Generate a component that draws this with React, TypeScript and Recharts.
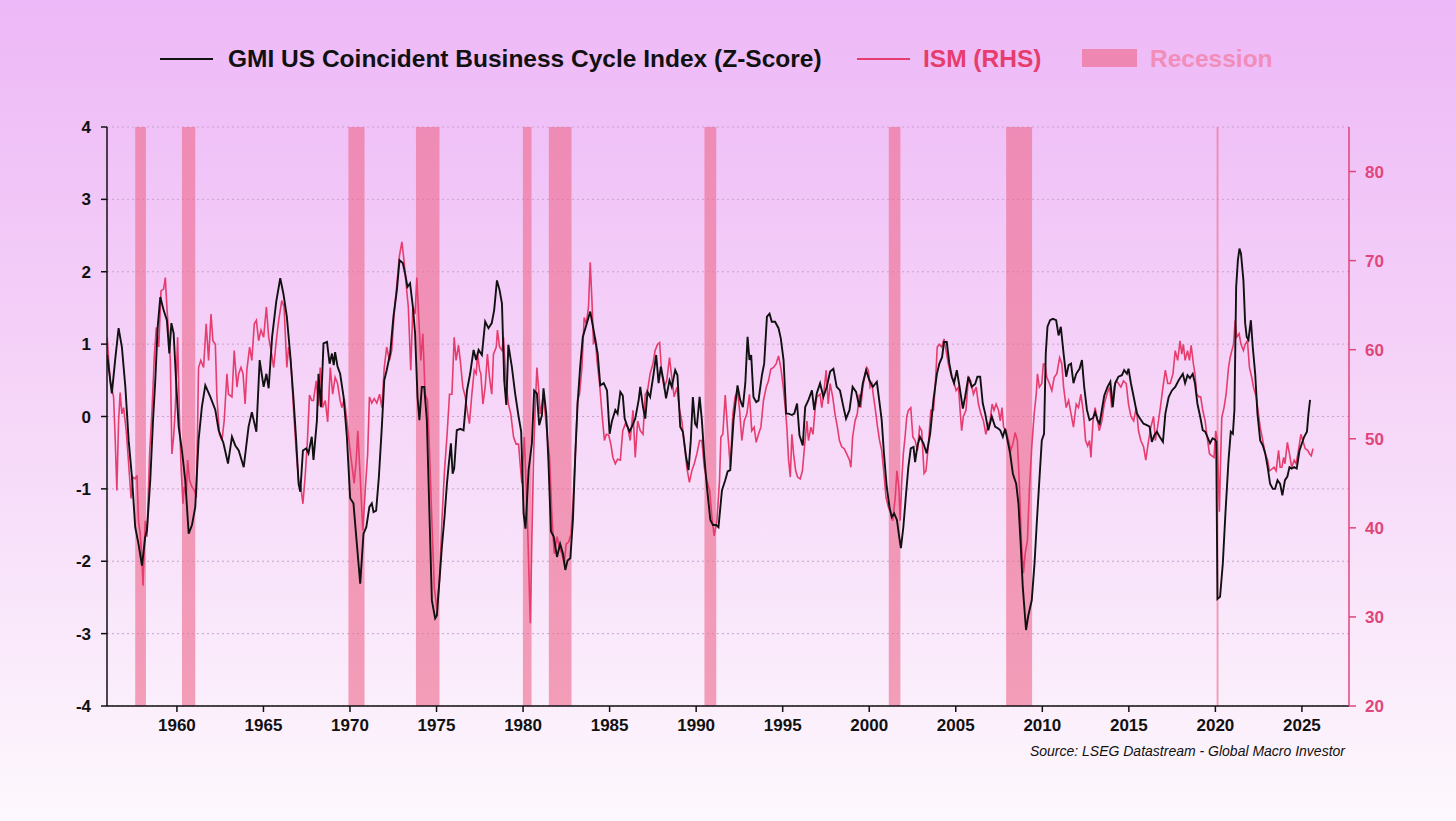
import React from 'react';
import { ComposedChart, Line, XAxis, YAxis, CartesianGrid, ReferenceArea } from 'recharts';

// x ticks, y ticks
const yearTicks = [1960, 1965, 1970, 1975, 1980, 1985, 1990, 1995, 2000, 2005, 2010, 2015, 2020, 2025];
const leftTicks = [-4, -3, -2, -1, 0, 1, 2, 3, 4];
const rightTicks = [20, 30, 40, 50, 60, 70, 80];

// recession periods [start, end] (decimal years)
const recessions: [number, number][] = [
  [1957.59, 1958.21], [1960.29, 1961.06], [1969.91, 1970.84], [1973.81, 1975.17],
  [1979.99, 1980.49], [1981.49, 1982.8], [1990.48, 1991.16], [2001.13, 2001.8],
  [2007.91, 2009.41], [2020.07, 2020.18],
];

// GMI US Coincident Business Cycle Index (z-score), [year, value]
const gmiPoints: [number, number][] = [
  [1955.97, 0.85], [1956.24, 0.32], [1956.43, 0.78], [1956.63, 1.22], [1956.82, 0.96], [1957.02, 0.41],
  [1957.21, -0.33], [1957.4, -0.83], [1957.59, -1.53], [1957.78, -1.76], [1957.98, -2.06], [1958.17, -1.66],
  [1958.27, -1.57], [1958.46, -0.88], [1958.62, -0.05], [1958.75, 0.5], [1958.89, 1.24], [1959.04, 1.65],
  [1959.23, 1.47], [1959.42, 1.33], [1959.56, 0.87], [1959.68, 1.29], [1959.81, 1.15], [1959.97, 0.41],
  [1960.1, -0.14], [1960.29, -0.47], [1960.48, -0.88], [1960.68, -1.62], [1960.87, -1.5], [1961.06, -1.25],
  [1961.25, -0.33], [1961.44, 0.13], [1961.64, 0.43], [1961.93, 0.27], [1962.22, 0.09], [1962.41, -0.19],
  [1962.69, -0.37], [1962.95, -0.65], [1963.18, -0.28], [1963.37, -0.4], [1963.57, -0.47], [1963.86, -0.7],
  [1964.14, -0.14], [1964.33, 0.06], [1964.59, -0.21], [1964.78, 0.78], [1965.01, 0.41], [1965.17, 0.59],
  [1965.3, 0.39], [1965.5, 1.1], [1965.74, 1.59], [1965.97, 1.91], [1966.15, 1.7], [1966.35, 1.38],
  [1966.54, 0.87], [1966.74, 0.23], [1966.89, -0.33], [1967.03, -0.93], [1967.13, -1.04], [1967.28, -0.47],
  [1967.47, -0.44], [1967.6, -0.51], [1967.79, -0.28], [1967.89, -0.6], [1968.09, -0.05], [1968.18, 0.59],
  [1968.32, 0.13], [1968.47, 1.01], [1968.67, 1.03], [1968.82, 0.73], [1968.96, 0.87], [1969.06, 0.71],
  [1969.14, 0.89], [1969.28, 0.69], [1969.43, 0.59], [1969.63, 0.27], [1969.82, -0.28], [1970.01, -1.13],
  [1970.2, -1.2], [1970.36, -1.66], [1970.59, -2.31], [1970.78, -1.62], [1970.94, -1.53], [1971.12, -1.25],
  [1971.26, -1.2], [1971.36, -1.32], [1971.51, -1.3], [1971.67, -0.83], [1971.84, -0.14], [1971.98, 0.5],
  [1972.12, 0.64], [1972.32, 0.87], [1972.51, 1.38], [1972.71, 1.75], [1972.86, 2.16], [1973.05, 2.12],
  [1973.18, 1.98], [1973.32, 1.79], [1973.47, 1.84], [1973.63, 1.52], [1973.76, 1.15], [1973.9, 0.27],
  [1974.01, -0.05], [1974.15, 0.41], [1974.29, 0.41], [1974.44, -0.05], [1974.6, -1.43], [1974.73, -2.54],
  [1974.92, -2.79], [1975.02, -2.75], [1975.31, -1.8], [1975.46, -1.39], [1975.6, -0.93], [1975.69, -0.7],
  [1975.83, -0.37], [1975.93, -0.79], [1976.02, -0.72], [1976.17, -0.19], [1976.37, -0.17], [1976.56, -0.19],
  [1976.76, 0.36], [1976.94, 0.59], [1977.14, 0.92], [1977.29, 0.78], [1977.43, 0.92], [1977.62, 0.85],
  [1977.81, 1.31], [1978.0, 1.22], [1978.19, 1.29], [1978.33, 1.47], [1978.49, 1.88], [1978.64, 1.75],
  [1978.78, 1.56], [1978.91, 0.5], [1979.03, 0.16], [1979.15, 0.99], [1979.35, 0.69], [1979.54, 0.32],
  [1979.74, 0.0], [1979.89, -0.21], [1980.03, -1.34], [1980.14, -1.55], [1980.32, -0.74], [1980.51, -0.37],
  [1980.64, 0.36], [1980.8, 0.32], [1980.93, -0.12], [1981.09, 0.02], [1981.18, 0.39], [1981.34, 0.04],
  [1981.47, -0.65], [1981.61, -1.59], [1981.77, -1.66], [1981.96, -1.94], [1982.14, -1.76], [1982.3, -1.89],
  [1982.44, -2.12], [1982.57, -1.99], [1982.73, -1.96], [1982.88, -1.43], [1983.02, -0.51], [1983.15, 0.18],
  [1983.3, 0.69], [1983.45, 1.1], [1983.65, 1.26], [1983.88, 1.45], [1984.04, 1.24], [1984.17, 1.06],
  [1984.31, 0.87], [1984.46, 0.43], [1984.66, 0.46], [1984.85, 0.36], [1985.0, -0.24], [1985.13, -0.07],
  [1985.33, 0.09], [1985.46, 0.04], [1985.62, 0.34], [1985.76, 0.29], [1985.87, -0.03], [1986.0, -0.12],
  [1986.15, -0.21], [1986.29, -0.14], [1986.48, -0.03], [1986.68, 0.23], [1986.77, 0.41], [1986.93, 0.13],
  [1987.06, -0.03], [1987.19, 0.34], [1987.34, 0.27], [1987.54, 0.59], [1987.69, 0.85], [1987.83, 0.46],
  [1987.96, 0.69], [1988.11, 0.5], [1988.26, 0.25], [1988.46, 0.5], [1988.59, 0.41], [1988.79, 0.64],
  [1988.92, 0.57], [1989.08, -0.14], [1989.23, -0.21], [1989.42, -0.56], [1989.56, -0.74], [1989.69, -0.33],
  [1989.81, 0.27], [1989.94, -0.1], [1990.04, -0.14], [1990.2, 0.27], [1990.33, -0.05], [1990.47, -0.56],
  [1990.62, -0.97], [1990.82, -1.43], [1990.97, -1.5], [1991.16, -1.5], [1991.29, -1.53], [1991.49, -1.02],
  [1991.68, -0.88], [1991.82, -0.76], [1991.97, -0.74], [1992.16, -0.05], [1992.39, 0.43], [1992.54, 0.23],
  [1992.7, 0.13], [1992.84, 0.46], [1992.97, 1.1], [1993.08, 0.78], [1993.18, 0.85], [1993.31, 0.27],
  [1993.47, 0.2], [1993.6, 0.22], [1993.8, 0.57], [1993.93, 0.73], [1994.09, 1.38], [1994.24, 1.42],
  [1994.37, 1.31], [1994.56, 1.31], [1994.76, 1.22], [1994.89, 1.08], [1995.05, 0.78], [1995.2, 0.04],
  [1995.34, 0.04], [1995.53, 0.02], [1995.67, 0.04], [1995.83, 0.18], [1995.97, -0.26], [1996.16, -0.4],
  [1996.3, 0.13], [1996.49, 0.23], [1996.69, 0.36], [1996.82, 0.09], [1996.97, 0.32], [1997.16, 0.46],
  [1997.35, 0.27], [1997.55, 0.41], [1997.74, 0.62], [1997.93, 0.66], [1998.12, 0.41], [1998.31, 0.36],
  [1998.51, 0.13], [1998.66, -0.03], [1998.86, 0.09], [1999.04, 0.41], [1999.24, 0.34], [1999.43, 0.13],
  [1999.63, 0.46], [1999.82, 0.64], [2000.01, 0.5], [2000.21, 0.41], [2000.44, 0.48], [2000.6, 0.18],
  [2000.72, -0.05], [2000.85, -0.51], [2001.01, -0.97], [2001.17, -1.25], [2001.3, -1.39], [2001.44, -1.34],
  [2001.6, -1.43], [2001.73, -1.66], [2001.83, -1.82], [2001.97, -1.53], [2002.13, -1.06], [2002.26, -0.7],
  [2002.4, -0.44], [2002.56, -0.42], [2002.65, -0.63], [2002.79, -0.4], [2002.93, -0.28], [2003.13, -0.37],
  [2003.32, -0.51], [2003.52, -0.24], [2003.71, 0.23], [2003.91, 0.59], [2004.05, 0.73], [2004.21, 0.82],
  [2004.32, 1.03], [2004.48, 1.03], [2004.63, 0.73], [2004.77, 0.55], [2004.9, 0.46], [2005.06, 0.64],
  [2005.22, 0.41], [2005.41, 0.11], [2005.54, 0.27], [2005.73, 0.55], [2005.92, 0.41], [2006.12, 0.45],
  [2006.25, 0.55], [2006.41, 0.55], [2006.56, 0.18], [2006.7, 0.04], [2006.88, -0.19], [2007.08, 0.0],
  [2007.27, -0.14], [2007.47, -0.17], [2007.57, -0.19], [2007.72, -0.28], [2007.85, -0.17], [2007.99, -0.33],
  [2008.14, -0.51], [2008.3, -0.79], [2008.49, -0.93], [2008.62, -1.2], [2008.75, -1.76], [2008.87, -2.35],
  [2009.06, -2.95], [2009.19, -2.75], [2009.39, -2.54], [2009.55, -2.03], [2009.69, -1.43], [2009.83, -0.88],
  [2009.97, -0.33], [2010.1, -0.24], [2010.2, 0.87], [2010.3, 1.24], [2010.45, 1.33], [2010.61, 1.35],
  [2010.8, 1.33], [2010.94, 1.12], [2011.07, 1.24], [2011.23, 0.87], [2011.38, 0.55], [2011.52, 0.71],
  [2011.66, 0.73], [2011.8, 0.46], [2011.96, 0.59], [2012.15, 0.66], [2012.29, 0.78], [2012.42, 0.41],
  [2012.58, 0.09], [2012.73, -0.05], [2012.93, -0.02], [2013.05, 0.06], [2013.19, -0.05], [2013.31, -0.1],
  [2013.44, 0.09], [2013.58, 0.29], [2013.77, 0.41], [2013.93, 0.48], [2014.07, 0.13], [2014.21, 0.46],
  [2014.4, 0.55], [2014.6, 0.57], [2014.73, 0.64], [2014.89, 0.59], [2014.98, 0.66], [2015.12, 0.46],
  [2015.28, 0.27], [2015.47, 0.04], [2015.65, -0.03], [2015.85, -0.1], [2016.04, -0.12], [2016.2, -0.14],
  [2016.33, -0.35], [2016.47, -0.26], [2016.62, -0.21], [2016.78, -0.28], [2016.97, -0.35], [2017.11, 0.04],
  [2017.3, 0.27], [2017.49, 0.36], [2017.68, 0.41], [2017.88, 0.5], [2018.12, 0.59], [2018.25, 0.46],
  [2018.39, 0.57], [2018.53, 0.53], [2018.69, 0.59], [2018.82, 0.46], [2018.96, 0.18], [2019.12, 0.0],
  [2019.27, -0.19], [2019.41, -0.21], [2019.54, -0.28], [2019.69, -0.37], [2019.84, -0.3], [2019.98, -0.32],
  [2020.05, -0.35], [2020.12, -2.52], [2020.27, -2.49], [2020.43, -2.03], [2020.58, -1.34], [2020.76, -0.6],
  [2020.89, -0.21], [2021.01, -0.24], [2021.1, 0.09], [2021.2, 1.79], [2021.3, 2.16], [2021.39, 2.32],
  [2021.48, 2.25], [2021.62, 1.88], [2021.72, 1.29], [2021.81, 1.1], [2021.91, 1.06], [2022.05, 1.33],
  [2022.16, 0.96], [2022.3, 0.59], [2022.43, 0.04], [2022.59, -0.33], [2022.74, -0.4], [2022.88, -0.51],
  [2023.02, -0.7], [2023.16, -0.93], [2023.32, -1.0], [2023.45, -1.0], [2023.59, -0.88], [2023.74, -0.93],
  [2023.87, -1.09], [2024.02, -0.88], [2024.16, -0.83], [2024.28, -0.7], [2024.41, -0.72], [2024.55, -0.7],
  [2024.7, -0.72], [2024.86, -0.47], [2025.0, -0.37], [2025.13, -0.28], [2025.29, -0.21], [2025.38, 0.04],
  [2025.47, 0.23],
];

// ISM manufacturing PMI (right axis), [year, value]
const ismPoints: [number, number][] = [
  [1955.97, 61.4], [1956.14, 56.5], [1956.34, 54.7], [1956.43, 50.2], [1956.53, 44.2], [1956.63, 52.0],
  [1956.72, 55.2], [1956.82, 52.8], [1956.92, 53.5], [1957.07, 50.9], [1957.21, 47.2], [1957.35, 43.3],
  [1957.46, 45.7], [1957.59, 45.5], [1957.69, 45.9], [1957.78, 40.8], [1957.88, 39.3], [1957.98, 36.3],
  [1958.04, 33.5], [1958.17, 40.8], [1958.27, 39.0], [1958.42, 48.3], [1958.56, 53.2], [1958.7, 59.5],
  [1958.81, 62.5], [1958.95, 60.3], [1959.08, 66.6], [1959.23, 66.8], [1959.33, 68.1], [1959.42, 64.8],
  [1959.52, 61.8], [1959.62, 58.8], [1959.71, 48.3], [1959.81, 50.2], [1959.91, 53.5], [1960.04, 61.4],
  [1960.16, 51.3], [1960.25, 46.4], [1960.35, 42.7], [1960.42, 44.6], [1960.54, 43.8], [1960.62, 47.6],
  [1960.73, 45.3], [1960.87, 44.6], [1961.01, 44.2], [1961.12, 43.4], [1961.25, 58.0], [1961.38, 58.8],
  [1961.54, 58.0], [1961.69, 62.9], [1961.83, 58.8], [1961.97, 64.0], [1962.08, 61.0], [1962.22, 60.6],
  [1962.31, 54.7], [1962.46, 50.5], [1962.6, 49.8], [1962.73, 52.0], [1962.89, 57.3], [1962.98, 55.0],
  [1963.18, 54.7], [1963.31, 59.9], [1963.47, 55.8], [1963.57, 57.3], [1963.7, 58.0], [1963.82, 57.3],
  [1963.94, 53.9], [1964.04, 57.7], [1964.2, 60.3], [1964.33, 58.8], [1964.47, 62.9], [1964.59, 63.3],
  [1964.72, 61.0], [1964.86, 62.2], [1965.01, 61.4], [1965.17, 64.8], [1965.3, 61.4], [1965.44, 59.9],
  [1965.59, 58.0], [1965.74, 61.0], [1965.88, 63.3], [1966.06, 65.5], [1966.19, 64.8], [1966.35, 58.0],
  [1966.45, 60.3], [1966.58, 58.8], [1966.74, 53.2], [1966.89, 48.7], [1967.03, 45.3], [1967.16, 44.6],
  [1967.28, 42.7], [1967.42, 46.1], [1967.54, 49.8], [1967.66, 54.9], [1967.79, 54.3], [1967.89, 54.3],
  [1968.05, 56.5], [1968.18, 53.7], [1968.28, 58.0], [1968.42, 53.5], [1968.57, 54.3], [1968.71, 51.9],
  [1968.86, 58.0], [1969.0, 55.0], [1969.14, 56.9], [1969.28, 56.2], [1969.43, 54.3], [1969.53, 53.5],
  [1969.67, 54.5], [1969.82, 52.0], [1969.98, 49.1], [1970.1, 47.2], [1970.24, 45.0], [1970.36, 47.6],
  [1970.45, 50.9], [1970.59, 45.7], [1970.74, 39.7], [1970.88, 44.2], [1971.02, 48.3], [1971.12, 54.7],
  [1971.26, 54.0], [1971.4, 54.5], [1971.55, 54.0], [1971.71, 55.0], [1971.84, 53.5], [1971.98, 58.0],
  [1972.12, 60.3], [1972.28, 58.8], [1972.41, 59.9], [1972.55, 64.0], [1972.71, 67.4], [1972.86, 70.6],
  [1973.0, 72.1], [1973.12, 70.0], [1973.24, 67.4], [1973.37, 64.8], [1973.51, 57.7], [1973.63, 64.8],
  [1973.76, 64.0], [1973.86, 68.1], [1973.98, 63.3], [1974.09, 58.8], [1974.21, 61.8], [1974.34, 55.0],
  [1974.48, 54.3], [1974.6, 48.3], [1974.73, 40.8], [1974.87, 33.3], [1975.02, 30.9], [1975.17, 34.1],
  [1975.31, 40.8], [1975.46, 46.4], [1975.6, 50.2], [1975.75, 55.0], [1975.89, 55.0], [1976.02, 61.4],
  [1976.13, 58.8], [1976.27, 60.5], [1976.37, 58.8], [1976.52, 55.8], [1976.66, 54.7], [1976.8, 52.8],
  [1976.9, 51.7], [1977.04, 55.0], [1977.18, 57.7], [1977.29, 57.3], [1977.37, 59.5], [1977.49, 57.7],
  [1977.56, 57.3], [1977.68, 53.9], [1977.81, 55.8], [1977.94, 59.5], [1978.06, 56.9], [1978.19, 55.0],
  [1978.29, 59.5], [1978.45, 60.3], [1978.52, 62.2], [1978.64, 60.3], [1978.78, 59.9], [1978.87, 61.4],
  [1979.01, 56.5], [1979.15, 53.9], [1979.29, 52.8], [1979.45, 50.2], [1979.6, 49.4], [1979.74, 49.4],
  [1979.83, 47.2], [1979.93, 45.0], [1980.07, 50.2], [1980.18, 44.6], [1980.28, 39.0], [1980.38, 31.8],
  [1980.42, 29.3], [1980.51, 39.0], [1980.61, 48.3], [1980.7, 53.5], [1980.8, 58.0], [1980.89, 55.8],
  [1980.99, 52.8], [1981.09, 53.9], [1981.18, 55.0], [1981.28, 52.8], [1981.42, 49.8], [1981.53, 47.9],
  [1981.67, 41.2], [1981.8, 37.1], [1981.96, 39.0], [1982.1, 37.8], [1982.24, 37.1], [1982.38, 36.0],
  [1982.49, 38.2], [1982.63, 38.4], [1982.77, 39.3], [1982.88, 42.7], [1983.02, 48.3], [1983.15, 54.3],
  [1983.26, 55.0], [1983.4, 58.0], [1983.53, 63.6], [1983.65, 62.9], [1983.78, 64.8], [1983.88, 69.8],
  [1983.98, 65.5], [1984.07, 60.6], [1984.17, 61.4], [1984.27, 58.8], [1984.42, 56.2], [1984.56, 52.8],
  [1984.7, 49.8], [1984.81, 50.5], [1984.95, 50.4], [1985.07, 49.4], [1985.19, 47.9], [1985.33, 47.2],
  [1985.46, 47.7], [1985.62, 47.6], [1985.76, 50.9], [1985.91, 51.7], [1986.04, 51.3], [1986.19, 49.8],
  [1986.35, 53.2], [1986.48, 47.9], [1986.62, 52.0], [1986.77, 50.9], [1986.93, 50.5], [1987.06, 55.0],
  [1987.19, 55.4], [1987.34, 57.3], [1987.5, 58.4], [1987.63, 59.9], [1987.77, 60.6], [1987.89, 60.8],
  [1988.01, 57.3], [1988.15, 55.8], [1988.3, 56.5], [1988.46, 59.1], [1988.59, 56.9], [1988.73, 54.7],
  [1988.89, 55.8], [1989.04, 53.2], [1989.17, 52.0], [1989.3, 49.8], [1989.46, 46.8], [1989.61, 45.1],
  [1989.75, 46.4], [1989.89, 47.2], [1990.04, 48.3], [1990.2, 49.8], [1990.33, 49.8], [1990.47, 46.8],
  [1990.62, 45.3], [1990.78, 44.2], [1990.91, 41.2], [1991.04, 39.1], [1991.2, 40.8], [1991.35, 45.3],
  [1991.43, 50.2], [1991.54, 50.5], [1991.68, 54.9], [1991.82, 50.9], [1991.97, 46.8], [1992.12, 52.8],
  [1992.25, 54.7], [1992.39, 55.4], [1992.51, 53.2], [1992.64, 49.8], [1992.78, 52.0], [1992.93, 52.8],
  [1993.08, 55.0], [1993.21, 50.9], [1993.35, 51.3], [1993.47, 49.6], [1993.6, 50.5], [1993.74, 51.3],
  [1993.89, 54.3], [1994.05, 55.8], [1994.18, 56.5], [1994.31, 57.8], [1994.47, 58.0], [1994.62, 58.4],
  [1994.76, 59.3], [1994.89, 58.0], [1995.01, 56.2], [1995.15, 53.5], [1995.24, 51.3], [1995.34, 47.6],
  [1995.44, 45.7], [1995.53, 50.5], [1995.63, 48.3], [1995.75, 46.4], [1995.86, 45.7], [1996.01, 45.5],
  [1996.14, 46.4], [1996.26, 49.1], [1996.4, 52.0], [1996.49, 49.8], [1996.63, 51.3], [1996.75, 50.5],
  [1996.88, 53.5], [1996.97, 54.7], [1997.16, 55.0], [1997.26, 53.5], [1997.39, 55.4], [1997.51, 57.7],
  [1997.63, 53.9], [1997.74, 56.2], [1997.89, 54.7], [1998.02, 52.8], [1998.16, 51.3], [1998.28, 49.8],
  [1998.41, 49.1], [1998.55, 48.9], [1998.7, 48.3], [1998.86, 47.6], [1998.94, 46.8], [1999.04, 50.2],
  [1999.18, 52.0], [1999.31, 52.8], [1999.43, 55.0], [1999.51, 53.5], [1999.63, 55.8], [1999.76, 57.3],
  [1999.86, 58.0], [1999.95, 57.7], [2000.05, 55.8], [2000.15, 56.2], [2000.25, 54.7], [2000.34, 53.5],
  [2000.48, 51.3], [2000.6, 49.8], [2000.72, 48.7], [2000.85, 46.1], [2000.97, 43.4], [2001.11, 42.3],
  [2001.25, 41.6], [2001.36, 40.8], [2001.5, 43.4], [2001.6, 46.4], [2001.71, 44.6], [2001.79, 40.8],
  [2001.88, 45.3], [2001.97, 48.3], [2002.07, 50.2], [2002.17, 52.5], [2002.26, 53.2], [2002.4, 53.5],
  [2002.52, 50.2], [2002.65, 49.8], [2002.79, 48.7], [2002.91, 51.3], [2003.03, 50.9], [2003.17, 46.1],
  [2003.28, 46.4], [2003.42, 49.4], [2003.56, 53.2], [2003.71, 53.2], [2003.81, 55.8], [2003.93, 60.3],
  [2004.05, 60.6], [2004.19, 60.3], [2004.32, 61.2], [2004.44, 59.9], [2004.57, 58.4], [2004.71, 57.3],
  [2004.87, 56.5], [2005.02, 55.4], [2005.16, 55.8], [2005.25, 53.2], [2005.34, 50.9], [2005.44, 52.5],
  [2005.59, 53.2], [2005.73, 56.9], [2005.86, 56.5], [2006.02, 55.0], [2006.18, 55.8], [2006.31, 53.9],
  [2006.45, 52.8], [2006.6, 52.0], [2006.74, 50.5], [2006.83, 51.3], [2006.98, 52.0], [2007.1, 53.9],
  [2007.21, 53.2], [2007.33, 53.9], [2007.47, 53.2], [2007.57, 52.0], [2007.67, 53.5], [2007.76, 51.3],
  [2007.91, 50.9], [2008.05, 49.8], [2008.18, 48.7], [2008.3, 49.4], [2008.43, 50.7], [2008.56, 49.8],
  [2008.68, 44.6], [2008.79, 38.6], [2008.91, 34.9], [2009.01, 37.1], [2009.14, 38.6], [2009.26, 44.6],
  [2009.39, 49.1], [2009.53, 52.8], [2009.65, 55.0], [2009.72, 57.3], [2009.83, 55.8], [2009.97, 56.2],
  [2010.06, 58.4], [2010.16, 58.4], [2010.26, 56.9], [2010.41, 56.2], [2010.55, 55.4], [2010.69, 56.9],
  [2010.84, 57.3], [2011.0, 59.1], [2011.13, 58.4], [2011.23, 55.8], [2011.38, 53.5], [2011.52, 54.3],
  [2011.66, 52.8], [2011.8, 51.3], [2011.96, 53.9], [2012.09, 53.5], [2012.23, 55.0], [2012.38, 52.8],
  [2012.5, 49.8], [2012.62, 49.2], [2012.73, 49.8], [2012.81, 47.9], [2012.93, 52.0], [2013.05, 53.5],
  [2013.15, 52.5], [2013.29, 50.9], [2013.44, 52.0], [2013.58, 53.9], [2013.73, 55.0], [2013.89, 55.8],
  [2014.01, 53.5], [2014.15, 55.8], [2014.27, 56.5], [2014.4, 56.2], [2014.54, 55.8], [2014.69, 56.5],
  [2014.85, 56.2], [2014.98, 53.9], [2015.12, 52.5], [2015.28, 52.0], [2015.43, 53.5], [2015.56, 50.9],
  [2015.69, 49.8], [2015.85, 49.1], [2015.98, 47.6], [2016.14, 49.8], [2016.27, 51.3], [2016.43, 52.5],
  [2016.53, 49.8], [2016.66, 51.3], [2016.82, 53.5], [2016.97, 55.8], [2017.11, 57.7], [2017.25, 56.2],
  [2017.39, 56.2], [2017.55, 57.3], [2017.68, 59.9], [2017.82, 58.8], [2017.96, 61.0], [2018.06, 59.5],
  [2018.15, 60.6], [2018.25, 58.8], [2018.39, 59.9], [2018.5, 58.8], [2018.6, 60.5], [2018.73, 58.4],
  [2018.82, 57.3], [2018.92, 55.0], [2019.06, 54.7], [2019.15, 54.7], [2019.27, 53.2], [2019.41, 52.0],
  [2019.5, 50.5], [2019.66, 48.3], [2019.78, 48.1], [2019.92, 47.9], [2020.02, 50.9], [2020.11, 49.8],
  [2020.23, 41.8], [2020.31, 48.3], [2020.37, 52.4], [2020.5, 53.5], [2020.62, 55.0], [2020.76, 58.0],
  [2020.85, 59.1], [2020.95, 59.9], [2021.05, 60.6], [2021.14, 63.3], [2021.24, 61.4], [2021.37, 61.8],
  [2021.48, 60.6], [2021.62, 59.9], [2021.72, 60.6], [2021.85, 61.0], [2021.97, 58.0], [2022.1, 56.9],
  [2022.2, 55.8], [2022.36, 54.7], [2022.49, 52.8], [2022.59, 51.3], [2022.74, 49.8], [2022.88, 48.3],
  [2023.02, 47.6], [2023.12, 46.4], [2023.26, 46.6], [2023.39, 46.8], [2023.51, 46.4], [2023.65, 48.7],
  [2023.74, 46.8], [2023.84, 46.8], [2023.94, 47.9], [2024.02, 47.2], [2024.16, 49.6], [2024.28, 48.3],
  [2024.41, 46.8], [2024.55, 47.6], [2024.66, 47.2], [2024.8, 48.7], [2024.94, 50.5], [2025.05, 49.8],
  [2025.19, 48.9], [2025.33, 48.7], [2025.45, 48.3], [2025.54, 48.1], [2025.64, 48.9],
];

const gmiData = gmiPoints.map(([year, value]) => ({ year, gmi: value }));
const ismData = ismPoints.map(([year, value]) => ({ year, ism: value }));

const FONT = '"Liberation Sans", Arial, Helvetica, sans-serif';
const BLACK = '#111111';
const ISM_RED = '#E63C6E';
const AXIS_PINK = '#E0457B';
const RECESSION = '#EE6A8E';

const legendText: React.CSSProperties = {
  position: 'absolute',
  top: 44,
  height: 30,
  lineHeight: '30px',
  fontFamily: FONT,
  fontWeight: 700,
  fontSize: 24.5,
  whiteSpace: 'nowrap',
};

const tickFont = { fontSize: 17, fontWeight: 700, fontFamily: FONT };

export default function App() {
  return (
    <div
      style={{
        position: 'absolute',
        left: 0,
        top: 0,
        width: 1456,
        height: 821,
        overflow: 'hidden',
        background: 'linear-gradient(to bottom, #EDB8F7 0%, #F5D3F8 45%, #FDF8FD 100%)',
      }}
    >
      {/* legend */}
      <div style={{ position: 'absolute', left: 160, top: 58, width: 53, height: 2, background: BLACK }} />
      <div style={{ ...legendText, left: 228, color: BLACK }}>GMI US Coincident Business Cycle Index (Z-Score)</div>
      <div style={{ position: 'absolute', left: 857, top: 58, width: 53, height: 2, background: ISM_RED }} />
      <div style={{ ...legendText, left: 923, color: ISM_RED }}>ISM (RHS)</div>
      <div style={{ position: 'absolute', left: 1082, top: 49, width: 55, height: 18, background: RECESSION, opacity: 0.65 }} />
      <div style={{ ...legendText, left: 1150, color: '#F28DB9' }}>Recession</div>

      <div style={{ position: 'absolute', left: 0, top: 0 }}>
        <ComposedChart width={1456} height={821} margin={{ top: 127, right: 0, bottom: 85, left: 0 }}>
          {recessions.map(([start, end]) => (
            <ReferenceArea
              key={start}
              x1={start}
              x2={end}
              yAxisId="left"
              y1={-4}
              y2={4}
              fill={RECESSION}
              fillOpacity={0.62}
              stroke="none"
            />
          ))}
          <CartesianGrid
            yAxisId="left"
            vertical={false}
            stroke="#C7A3CC"
            strokeDasharray="2 3"
          />
          <XAxis
            dataKey="year"
            type="number"
            domain={[1955.96, 2027.72]}
            ticks={yearTicks}
            allowDataOverflow
            height={30}
            tickSize={6}
            tickMargin={7}
            axisLine={{ stroke: BLACK, strokeWidth: 1.5 }}
            tickLine={{ stroke: BLACK, strokeWidth: 1.5 }}
            tick={{ fill: BLACK, ...tickFont }}
          />
          <YAxis
            yAxisId="left"
            domain={[-4, 4]}
            ticks={leftTicks}
            interval={0}
            width={107}
            tickSize={6}
            tickMargin={10}
            axisLine={{ stroke: BLACK, strokeWidth: 1.5 }}
            tickLine={{ stroke: BLACK, strokeWidth: 1.5 }}
            tick={{ fill: BLACK, ...tickFont }}
          />
          <YAxis
            yAxisId="right"
            orientation="right"
            domain={[20, 85]}
            ticks={rightTicks}
            interval={0}
            width={107}
            tickSize={7}
            tickMargin={9}
            axisLine={{ stroke: AXIS_PINK, strokeWidth: 1.5 }}
            tickLine={{ stroke: AXIS_PINK, strokeWidth: 1.5 }}
            tick={{ fill: AXIS_PINK, ...tickFont }}
          />
          <Line
            data={ismData}
            yAxisId="right"
            dataKey="ism"
            type="linear"
            stroke={ISM_RED}
            strokeWidth={1.6}
            dot={false}
            isAnimationActive={false}
          />
          <Line
            data={gmiData}
            yAxisId="left"
            dataKey="gmi"
            type="linear"
            stroke={BLACK}
            strokeWidth={1.9}
            dot={false}
            isAnimationActive={false}
          />
        </ComposedChart>
      </div>

      <div
        style={{
          position: 'absolute',
          right: 1456 - 1345,
          top: 743,
          fontFamily: FONT,
          fontStyle: 'italic',
          fontSize: 14,
          color: BLACK,
          whiteSpace: 'nowrap',
        }}
      >
        Source: LSEG Datastream - Global Macro Investor
      </div>
    </div>
  );
}
